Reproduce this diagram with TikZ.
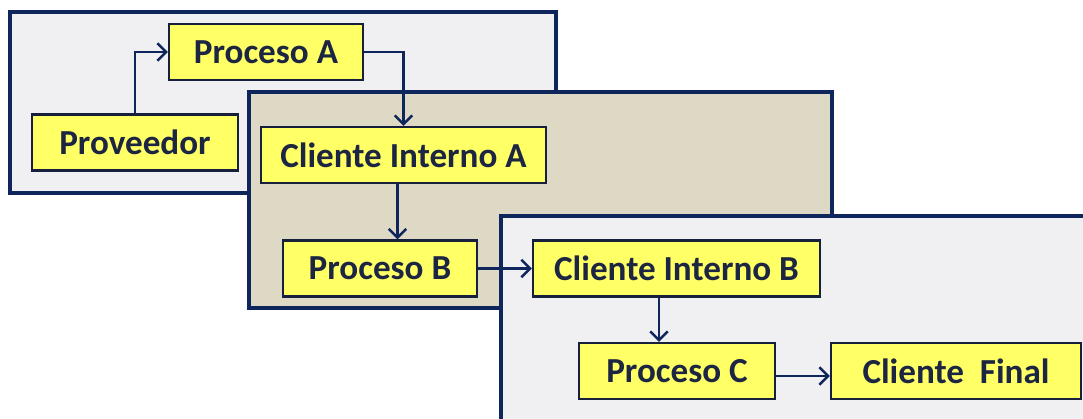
\documentclass[tikz,border=0pt]{standalone}
\usepackage{fontspec}
\setmainfont{Carlito}
\usepackage{tikz}
\usetikzlibrary{calc, arrows.meta, positioning}
\definecolor{marco}{RGB}{14,38,92}
\definecolor{borde}{RGB}{22,32,60}
\definecolor{texto}{RGB}{28,37,65}
\definecolor{amarillo}{RGB}{255,255,102}
\definecolor{gris}{RGB}{240,240,242}
\definecolor{beige}{RGB}{221,217,196}
\tikzstyle{panel} = [draw=marco, line width=2.2pt]
\tikzstyle{caja} = [rectangle, draw=borde, fill=amarillo, line width=1.3pt,
text=texto, font=\fontsize{20}{24}\selectfont\bfseries, minimum height=1.12cm, inner sep=0pt]
\tikzstyle{line} = [draw=marco, line width=1.4pt, -{Straight Barb[length=5pt,width=10pt]}]

\begin{document}
\begin{tikzpicture}[x=0.02cm, y=-0.02cm]
	\clip (0,0) rectangle (1083,419);
	\fill[white] (0,0) rectangle (1083,419);
	% Panels
	\filldraw [panel, fill=gris] (10,12) rectangle (556,193);
	\filldraw [panel, fill=beige] (249,92) rectangle (832,308);
	\filldraw [panel, fill=gris] (501,216) rectangle (1110,450);
	% Place nodes
	\node [caja, minimum width=3.88cm] (procA) at (266,52) {Proceso A};
	\node [caja, minimum width=4.12cm] (prov) at (135,142.5) {Proveedor};
	\node [caja, minimum width=5.7cm] (cliA) at (403.5,155) {Cliente Interno A};
	\node [caja, minimum width=3.88cm] (procB) at (380,268.5) {Proceso B};
	\node [caja, minimum width=5.74cm] (cliB) at (676.5,268.5) {Cliente Interno B};
	\node [caja, minimum width=3.92cm] (procC) at (677,371) {Proceso C};
	\node [caja, minimum width=5cm] (final) at (956,371) {Cliente\ \ Final};
	%
	\path [line] (prov) |- (procA);
	\path [line] (procA) -| (cliA);
	\path [line] ([xshift=-0.12cm]cliA.south) -- ([xshift=-0.12cm]cliA.south |- procB.north);
	\path [line] (procB) -- (cliB);
	\path [line] ([xshift=-0.35cm]cliB.south) -- ([xshift=-0.35cm]cliB.south |- procC.north);
	\path [line] ([yshift=-0.1cm]procC.east) -- ([yshift=-0.1cm]procC.east -| final.west);
\end{tikzpicture}
\end{document}
